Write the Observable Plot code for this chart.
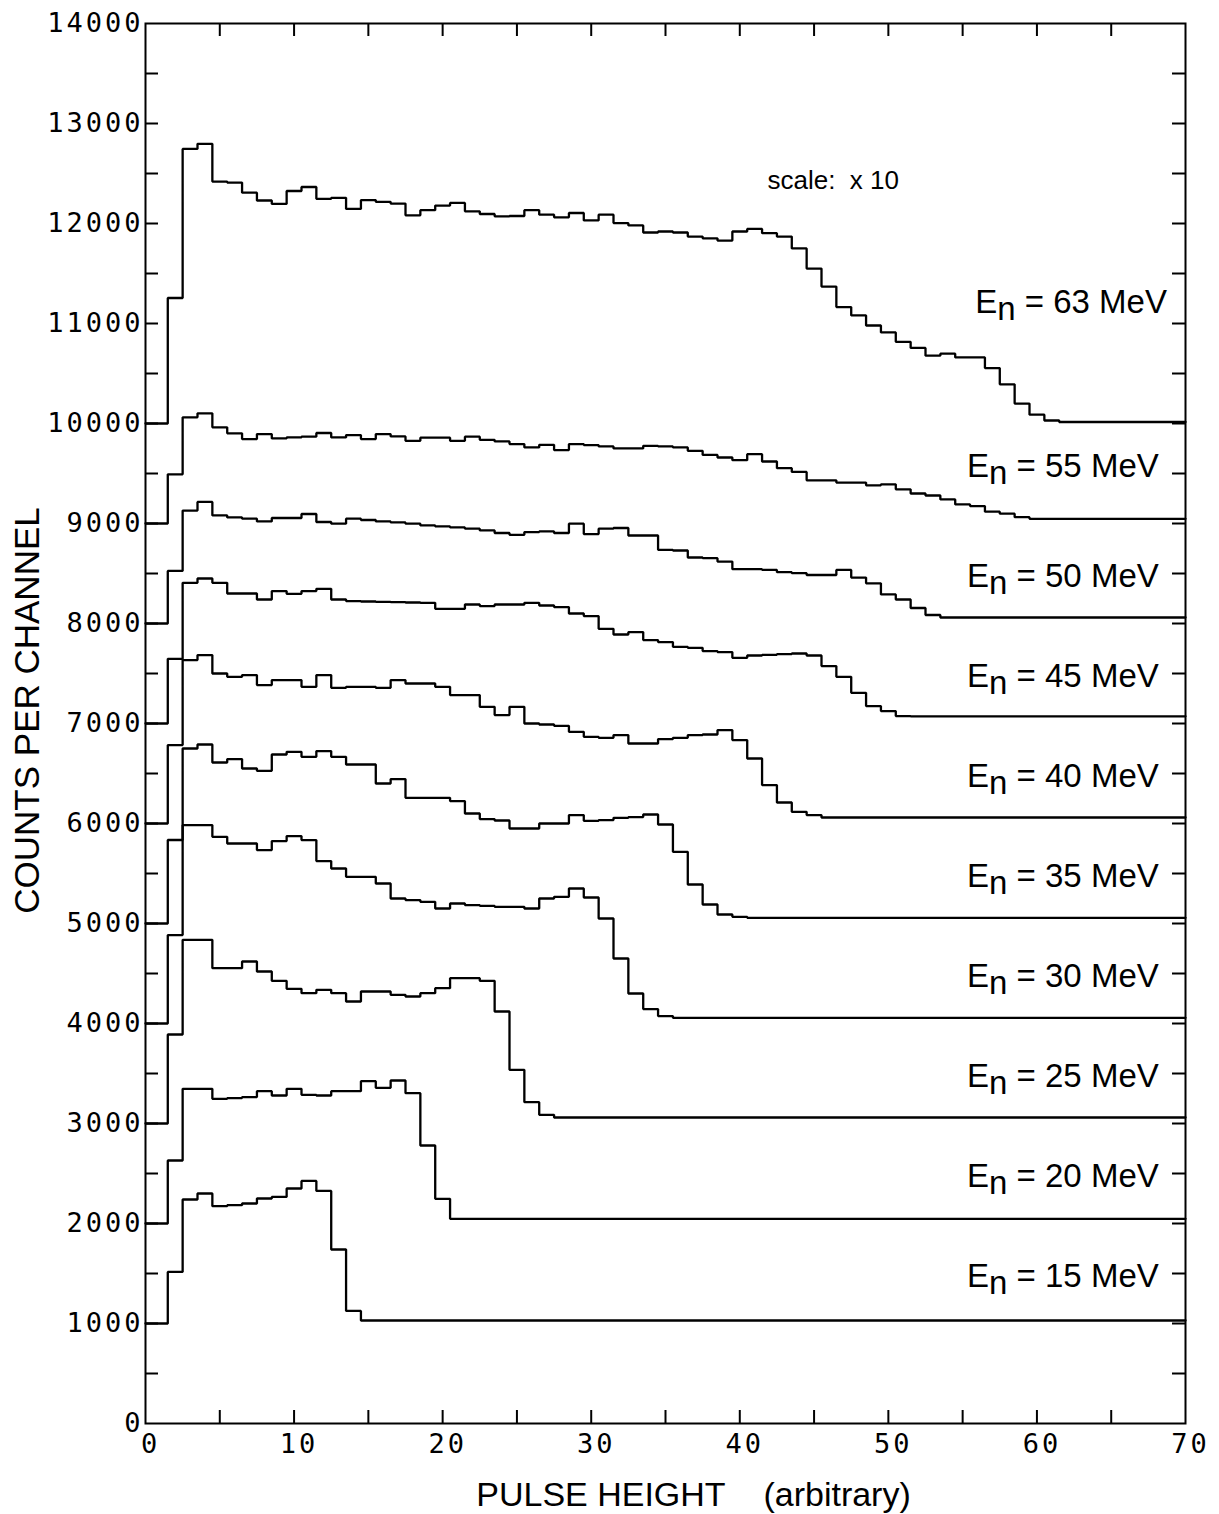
<!DOCTYPE html>
<html>
<head>
<meta charset="utf-8">
<script src="https://cdn.jsdelivr.net/npm/d3@7"></script>
<script src="https://cdn.jsdelivr.net/npm/@observablehq/plot@0.6"></script>
<style>
  html, body { margin: 0; padding: 0; background: #fff; }
  #chart svg { display: block; }
  g[aria-description="y-tick-labels"] text,
  g[aria-description="x-tick-labels"] text { letter-spacing: 3px; }
</style>
</head>
<body>
<div id="chart"></div>
<script>
// Neutron energies (MeV) and the vertical offset each spectrum is stacked on
const energies = [15, 20, 25, 30, 35, 40, 45, 50, 55, 63];
const offsets  = [1000, 2000, 3000, 4000, 5000, 6000, 7000, 8000, 9000, 10000];

// Counts per channel (channels 0..69) above each spectrum's offset.
// The 63 MeV spectrum is drawn scaled x10.
const counts15 = [0,0,516,1240,1300,1173,1183,1200,1250,1266,1350,1426,1326,740,126,
  30,30,30,30,30,30,30,30,30,30, 30,30,30,30,30,30,30,30,30,30,
  30,30,30,30,30,30,30,30,30,30, 30,30,30,30,30,30,30,30,30,30,
  30,30,30,30,30,30,30,30,30,30, 30,30,30,30,30];
const counts20 = [0,0,630,1347,1347,1247,1254,1264,1323,1280,1347,1287,1280,1323,1323,1423,1357,1430,1303,780,247,
  47,47,47,47,47,47,47,47,47,47, 47,47,47,47,47,47,47,47,47,47,
  47,47,47,47,47,47,47,47,47,47, 47,47,47,47,47,47,47,47,47,47,
  47,47,47,47,47,47,47,47,47];
const counts25 = [0,0,890,1837,1837,1553,1553,1620,1520,1427,1347,1303,1337,1303,1220,1320,1320,1287,1270,1303,
  1353,1453,1453,1427,1120,537,213,87,
  60,60,60,60,60,60,60,60,60,60, 60,60,60,60,60,60,60,60,60,60,
  60,60,60,60,60,60,60,60,60,60, 60,60,60,60,60,60,60,60,60,60,
  60,60];
const counts30 = [0,0,884,1984,1984,1867,1800,1800,1734,1824,1874,1834,1624,1550,1467,1467,1400,1250,1234,1217,
  1150,1200,1184,1177,1167,1167,1150,1250,1267,1350,1260,1050,650,300,144,74,
  57,57,57,57,57,57,57,57,57,57, 57,57,57,57,57,57,57,57,57,57,
  57,57,57,57,57,57,57,57,57,57, 57,57,57,57];
const counts35 = [0,0,835,1750,1790,1610,1644,1550,1527,1690,1717,1667,1724,1667,1590,1590,1400,1444,1257,1257,
  1257,1224,1100,1044,1030,950,950,1000,1000,1084,1027,1034,1057,1064,1090,990,717,390,190,90,67,
  57,57,57,57,57,57,57,57,57,57, 57,57,57,57,57,57,57,57,57,57,
  57,57,57,57,57,57,57,57,57];
const counts40 = [0,0,784,1634,1684,1500,1467,1484,1384,1434,1434,1367,1484,1357,1367,1367,1357,1434,1400,1400,
  1367,1284,1284,1167,1084,1167,1000,990,977,917,867,857,884,800,800,844,857,884,890,934,
  834,650,384,210,117,84,
  60,60,60,60,60,60,60,60,60,60, 60,60,60,60,60,60,60,60,60,60,
  60,60,60,60];
const counts45 = [0,0,647,1407,1450,1407,1300,1300,1240,1324,1297,1324,1347,1240,1224,1220,1217,1214,1210,1207,
  1147,1147,1190,1174,1190,1190,1207,1180,1164,1100,1074,947,890,914,834,814,767,757,724,714,
  657,680,687,694,700,680,574,467,307,174,124,74,
  72,72,72,72,72,72,72,72,72,72, 72,72,72,72,72,72,72,72];
const counts50 = [0,0,526,1129,1216,1081,1061,1048,1021,1055,1055,1095,1015,998,1048,1035,1021,1011,998,981,
  971,961,948,931,905,887,914,921,905,998,894,948,955,880,880,737,730,660,653,619,
  543,543,536,513,503,485,485,536,459,402,291,240,155,85,
  60,60,60,60,60,60,60,60,60,60, 60,60,60,60,60,60];
const counts55 = [0,0,492,1062,1102,962,902,844,894,851,861,868,905,861,884,844,894,871,827,858,
  858,827,868,837,821,794,761,787,734,794,784,771,751,751,777,771,761,727,686,660,
  633,693,620,553,516,432,432,409,409,382,392,342,300,280,241,191,174,118,98,63,
  47,47,47,47,47,47,47,47,47,47];
const counts63 = [0,0,1255,2746,2797,2419,2409,2308,2230,2196,2325,2365,2247,2257,2146,2234,2217,2199,2082,2133,
  2179,2206,2122,2095,2072,2075,2133,2088,2062,2105,2031,2088,2004,1981,1910,1920,1910,1869,1852,1829,
  1920,1946,1903,1869,1751,1549,1369,1164,1081,980,911,817,756,678,698,661,661,554,392,199,
  88,30,
  15,15,15,15,15,15,15,15];

const countsList = [counts15, counts20, counts25, counts30, counts35,
                    counts40, counts45, counts50, counts55, counts63];

// Axis ticks and labels
const xMajor  = [0, 10, 20, 30, 40, 50, 60, 70];
const xTicks  = [5, 10, 15, 20, 25, 30, 35, 40, 45, 50, 55, 60, 65];
const yMajor  = [0, 1000, 2000, 3000, 4000, 5000, 6000, 7000, 8000, 9000, 10000, 11000, 12000, 13000, 14000];
const yTicks  = [500, 1000, 1500, 2000, 2500, 3000, 3500, 4000, 4500, 5000, 5500, 6000, 6500,
                 7000, 7500, 8000, 8500, 9000, 9500, 10000, 10500, 11000, 11500, 12000, 12500, 13000, 13500];

const xTitle = "PULSE HEIGHT\u00a0\u00a0\u00a0\u00a0(arbitrary)";
const yTitle = "COUNTS PER CHANNEL";
const scaleNote = "scale:\u00a0\u00a0x 10";

// ---- layout ----
const W = 1219, H = 1514;
const mL = 145, mR = 34, mT = 23, mB = 91;
const innerW = W - mL - mR;
const innerH = H - mT - mB;
const tickLen = 13;
const sans = "Liberation Sans, Arial, Helvetica, sans-serif";
const mono = "DejaVu Sans Mono, Liberation Mono, monospace";

const series = energies.map((e, i) => ({energy: e, offset: offsets[i], counts: countsList[i]}));

// Histogram outline: each channel k occupies [k-0.5, k+0.5], clipped to the axis range
const steps = series.flatMap(s => {
  const pts = s.counts.map((c, k) => ({energy: s.energy, x: Math.max(0, k - 0.5), y: s.offset + c}));
  pts.push({energy: s.energy, x: 70, y: s.offset + s.counts[s.counts.length - 1]});
  return pts;
});

// Label placement above each spectrum's tail
const labels = series.map(s => ({
  energy: s.energy,
  x: s.energy === 63 ? 68.75 : 68.2,
  y: s.offset + (s.energy === 63 ? 1110 : s.energy === 55 ? 470 : 370)
}));

const chart = Plot.plot({
  width: W,
  height: H,
  marginLeft: mL,
  marginRight: mR,
  marginTop: mT,
  marginBottom: mB,
  x: {domain: [0, 70], axis: null},
  y: {domain: [0, 14000], axis: null},
  style: {background: "white", color: "black", fontFamily: sans},
  marks: [
    // inward ticks on all four sides
    Plot.tickY(yTicks, {y: d => d, insetRight: innerW - tickLen, stroke: "black", strokeWidth: 2}),
    Plot.tickY(yTicks, {y: d => d, insetLeft: innerW - tickLen, stroke: "black", strokeWidth: 2}),
    Plot.tickX(xTicks, {x: d => d, insetTop: innerH - tickLen, stroke: "black", strokeWidth: 2}),
    Plot.tickX(xTicks, {x: d => d, insetBottom: innerH - tickLen, stroke: "black", strokeWidth: 2}),
    Plot.frame({stroke: "black", strokeWidth: 2}),

    // spectra
    Plot.line(steps, {x: "x", y: "y", z: "energy", curve: "step-after",
      stroke: "black", strokeWidth: 2.3, strokeLinejoin: "miter"}),

    // tick labels
    Plot.text(yMajor, {y: d => d, text: d => String(d), frameAnchor: "left", textAnchor: "end",
      lineAnchor: "middle", dx: -2, fontSize: 27, fontFamily: mono, ariaDescription: "y-tick-labels"}),
    Plot.text(xMajor, {x: d => d, text: d => String(d), frameAnchor: "bottom", textAnchor: "middle",
      lineAnchor: "middle", dx: 5, dy: 21, fontSize: 27, fontFamily: mono, ariaDescription: "x-tick-labels"}),

    // axis titles and note
    Plot.text([yTitle], {text: d => d, frameAnchor: "left", dx: -118, dy: -13, rotate: -90,
      textAnchor: "middle", lineAnchor: "middle", fontSize: 35, fontFamily: sans}),
    Plot.text([xTitle], {text: d => d, frameAnchor: "bottom", dx: 28, dy: 82,
      textAnchor: "middle", lineAnchor: "bottom", fontSize: 34, fontFamily: sans}),
    Plot.text([scaleNote], {text: d => d, frameAnchor: "top-left", dx: 622, dy: 165,
      textAnchor: "start", lineAnchor: "bottom", fontSize: 26, fontFamily: sans}),

    // energy labels
    Plot.text(labels, {x: "x", y: "y", text: d => `En = ${d.energy} MeV`, textAnchor: "end",
      lineAnchor: "bottom", fontSize: 33, fontFamily: sans, ariaDescription: "energy-labels"})
  ]
});

// Subscript "n" in the E_n labels
d3.select(chart).selectAll('g[aria-description="energy-labels"] text').each(function() {
  const t = d3.select(this);
  const s = t.text();
  t.text(null);
  t.append("tspan").text(s.slice(0, 1));
  t.append("tspan").attr("dy", "0.23em").text(s.slice(1, 2));
  t.append("tspan").attr("dy", "-0.23em").text(s.slice(2));
});

document.getElementById("chart").appendChild(chart);
</script>
</body>
</html>
